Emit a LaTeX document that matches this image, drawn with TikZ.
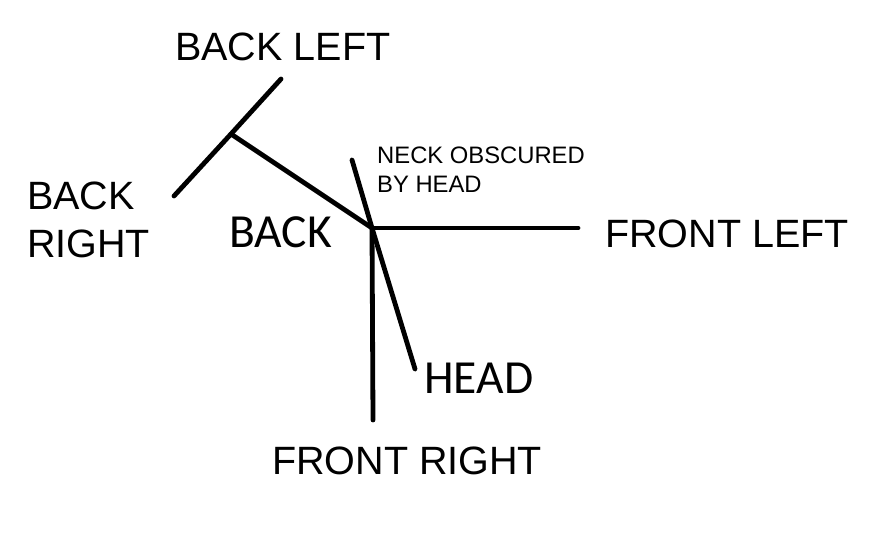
\documentclass[tikz,border=0pt]{standalone}
\usepackage{fontspec}
\setmainfont{Liberation Sans}
\newfontfamily\calib{Carlito}
\begin{document}
\begin{tikzpicture}[x=1pt,y=-1pt,
  leg/.style={line width=4.8pt,line cap=round},
  lbl/.style={inner sep=0pt,anchor=base west,font=\fontsize{39.5}{48}\selectfont},
  clbl/.style={inner sep=0pt,anchor=base west,font=\calib\fontsize{47.5}{50}\selectfont},
  note/.style={inner sep=0pt,anchor=base west,align=left,font=\fontsize{23.8}{29}\selectfont}]
\useasboundingbox (0,0) rectangle (877,540);
\coordinate (hub) at (372,228);
\coordinate (hip) at (231,134);
\coordinate (bl) at (281,79);
\coordinate (br) at (174,196);
\coordinate (fl) at (578,228);
\coordinate (fr) at (373,420);
\coordinate (neck) at (352,160);
\coordinate (head) at (415,369);
\draw[leg] (bl) -- (hip) -- (br);
\draw[leg] (hip) -- (hub);
\draw[leg] (hub) -- (fl);
\draw[leg] (hub) -- (fr);
\draw[leg] (neck) -- (hub) -- (head);
\node[lbl] (tbl) at (175,61) {BACK LEFT};
\node[lbl,align=left] (tbr) at (27,257) {BACK\\RIGHT};
\node[note] (tneck) at (377,193) {NECK OBSCURED\\BY HEAD};
\node[clbl] (tback) at (229,247) {BACK};
\node[lbl] (tfl) at (605,247) {FRONT LEFT};
\node[clbl] (thead) at (424,393) {HEAD};
\node[lbl] (tfr) at (272,474) {FRONT RIGHT};
\end{tikzpicture}
\end{document}
